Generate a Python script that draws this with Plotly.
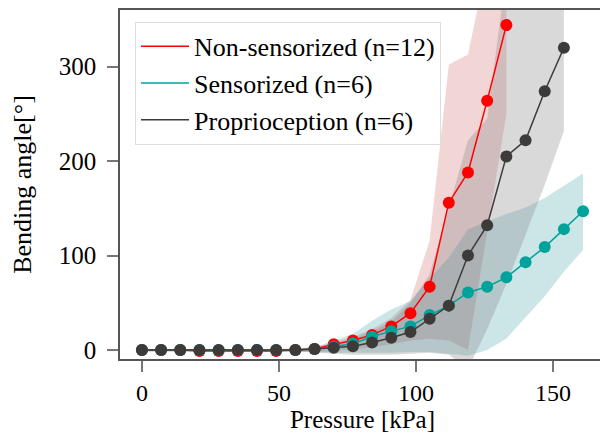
import plotly.graph_objects as go

# Pressure samples [kPa]
pressure = [0, 7, 14, 21, 28, 35, 42, 49, 56, 63, 70, 77, 84, 91, 98, 105, 112, 119, 126, 133, 140, 147, 154, 161]

# Non-sensorized (n=12): 0..133 kPa
non_mean = [0, 0, 0, -1, -1, -1, -1, -1, 0, 1, 6, 10, 16, 25, 39, 67, 156, 188, 264, 344]
non_upper = [1, 1, 1, 1, 1, 1, 1, 1, 2, 3, 8, 14, 22, 34, 53, 116, 302, 313, 410, 450]
non_lower = [-2, -2, -2, -2, -2, -2, -2, -2, -2, -2, -1, 1, 3, 6, 10, 12, 10, 0, 125, 250]

# Sensorized (n=6): 0..161 kPa
sen_mean = [0, 0, 0, 0, 0, 0, 0, 0, 0, 1, 3.5, 7, 14, 20, 25, 37, 47, 61, 67, 77, 93, 109, 128, 147]
sen_upper = [1, 1, 1, 1, 1, 1, 1, 1, 1, 3, 10, 17, 31, 43, 52, 76, 98, 128, 136, 144, 151, 161, 174, 187]
sen_lower = [-1, -1, -1, -1, -1, -1, -1, -1, -1, -2, -3, -3, -3, -3, -2, -2, -4, -6, 0, 12, 35, 57, 83, 106]

# Proprioception (n=6): 0..154 kPa
pro_mean = [0, 0, 0, 0, 0, 0, 0, 0, 0, 1, 2.5, 4, 8, 13, 19, 33, 47, 100, 132, 205, 222, 274, 320]
pro_upper = [1, 1, 1, 1, 1, 1, 1, 1, 1, 3, 7, 12, 20, 30, 50, 80, 150, 222, 245, 400, 430, 440, 450]
pro_lower = [-1, -1, -1, -1, -1, -1, -1, -1, -1, -3, -4, -5, -5, -5, -4, -3, -5, -20, 22, 70, 122, 175, 232]

series = [
    ("Non-sensorized (n=12)", non_mean, non_upper, non_lower, "#ff0000", "rgba(205,92,92,0.25)"),
    ("Sensorized (n=6)", sen_mean, sen_upper, sen_lower, "#00a39b", "rgba(0,128,140,0.20)"),
    ("Proprioception (n=6)", pro_mean, pro_upper, pro_lower, "#3d3b3a", "rgba(128,128,128,0.30)"),
]

fig = go.Figure()

# bands
for name, m, up, lo, col, fillcol in series:
    xs = pressure[:len(m)]
    fig.add_trace(go.Scatter(
        x=xs + xs[::-1], y=up + lo[::-1], fill="toself", fillcolor=fillcol,
        line=dict(width=0), mode="lines", showlegend=False, hoverinfo="skip"))

# mean lines
for name, m, up, lo, col, fillcol in series:
    xs = pressure[:len(m)]
    fig.add_trace(go.Scatter(
        x=xs, y=m, mode="lines+markers", name=name, showlegend=False,
        line=dict(color=col, width=1.5),
        marker=dict(color=col, size=12)))

# legend entries (line only)
for name, m, up, lo, col, fillcol in series:
    fig.add_trace(go.Scatter(
        x=[None], y=[None], mode="lines", name=name,
        line=dict(color=col, width=1.5)))

font_family = "Liberation Serif"
# page body has an 8px margin: figure is 600x425 placed at (8, 8)
fig.update_layout(
    width=600, height=425,
    margin=dict(l=112, r=3, t=0, b=74),
    paper_bgcolor="white", plot_bgcolor="white",
    font=dict(family=font_family, size=25, color="black"),
    showlegend=True,
    legend=dict(
        x=0.031, y=0.966, xanchor="left", yanchor="top",
        bgcolor="rgba(255,255,255,0.8)", bordercolor="#dddddd", borderwidth=1,
        font=dict(family=font_family, size=26), itemwidth=48,
        tracegroupgap=0,
    ),
)
fig.update_xaxes(
    range=[-8, 169], tickvals=[0, 50, 100, 150], showgrid=False, zeroline=False,
    showline=True, linecolor="#555555", linewidth=1.5, mirror=True,
    ticks="outside", ticklen=11, tickcolor="#777777", tickwidth=1.5,
    tickfont=dict(size=24), title=dict(text="Pressure [kPa]", standoff=3, font=dict(size=25)),
)
fig.update_yaxes(
    range=[-9.5, 360], tickvals=[0, 100, 200, 300], showgrid=False, zeroline=False,
    showline=True, linecolor="#555555", linewidth=1.5, mirror=True,
    ticks="outside", ticklen=11, tickcolor="#777777", tickwidth=1.5,
    ticklabelstandoff=6,
    tickfont=dict(size=25), title=dict(text="Bending angle[°]", standoff=20, font=dict(size=26)),
)

fig.write_html("out.html")
